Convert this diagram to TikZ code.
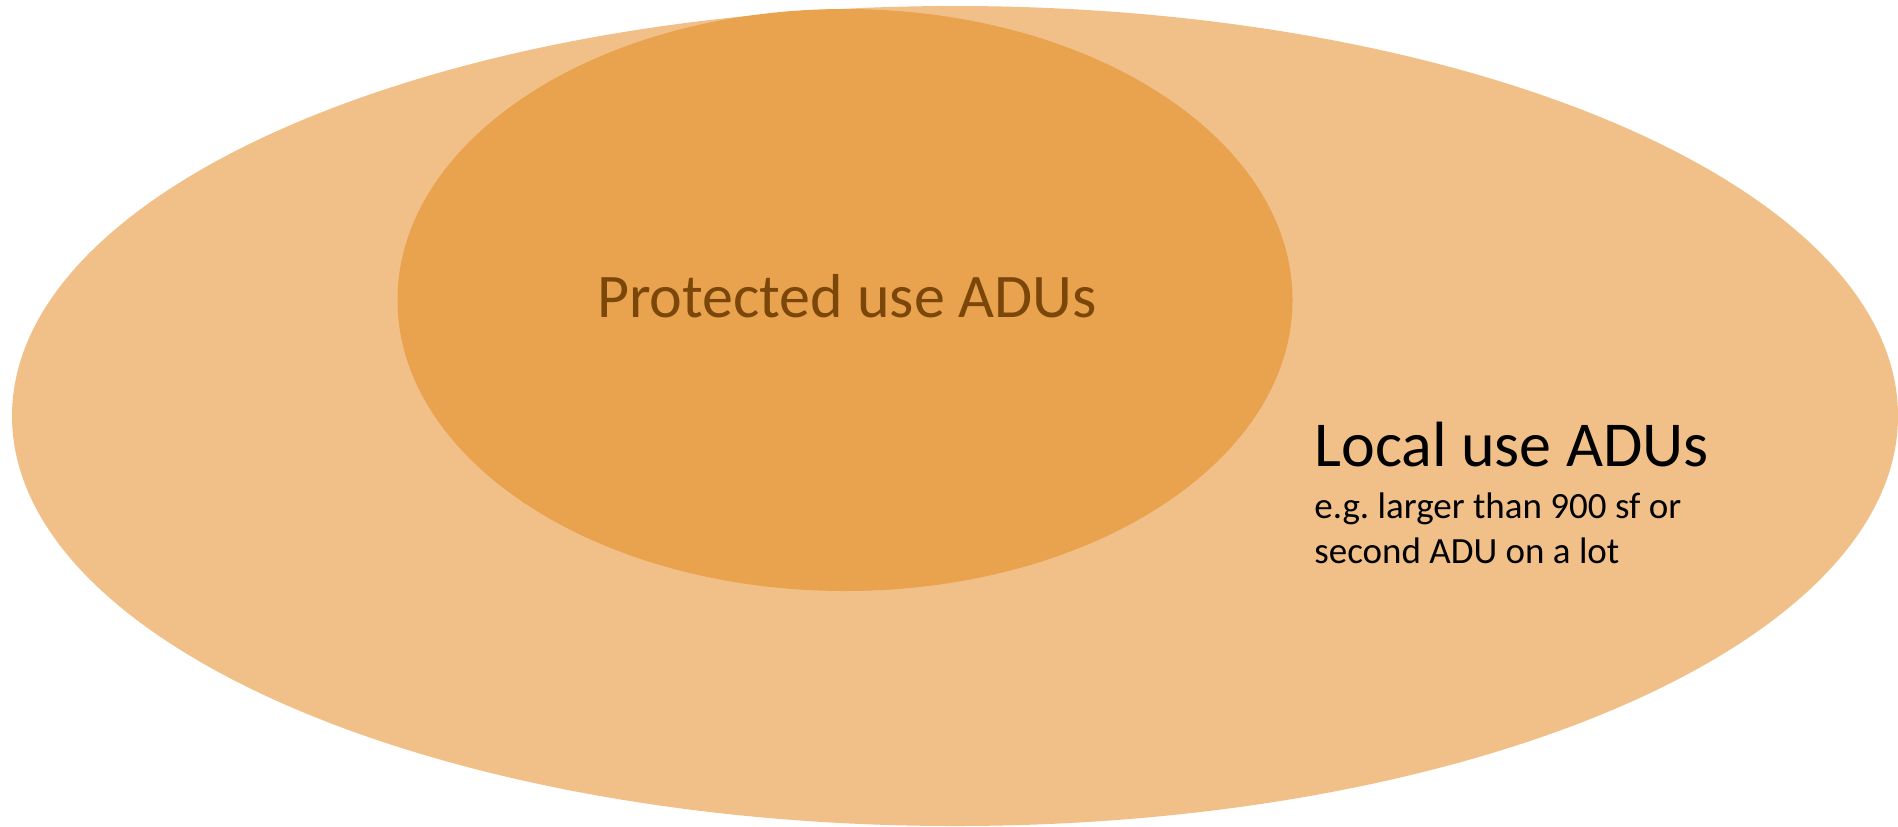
\documentclass[tikz,border=0pt]{standalone}
\usepackage{fontspec}
\setmainfont{Carlito}
\usetikzlibrary{positioning}
\definecolor{localfill}{RGB}{241,192,137}
\definecolor{protfill}{RGB}{233,162,77}
\definecolor{prottext}{RGB}{122,70,10}
\tikzset{font=\fontsize{18.5}{23}\selectfont}

\begin{document}
\begin{tikzpicture}[x=0.5pt, y=-0.5pt]
	\useasboundingbox (0, 0) rectangle (1898, 826);
	\begin{scope}
		\tikzstyle{every node}=[inner sep=0pt, anchor=base west]
		\fill[localfill] (955, 416) ellipse [x radius=471.5pt, y radius=205pt];
		\fill[protfill] (845, 300) ellipse [x radius=223.75pt, y radius=145.5pt];

		\node[anchor=base, text=prottext, font=\fontsize{31}{36}\selectfont] (prot) at (847, 317) {Protected use ADUs};
		\node[font=\fontsize{32}{38}\selectfont] (local) at (1314, 466) {Local use ADUs};
		\node (sub1) at (1314, 518) {e.g.\ larger than 900 sf or};
		\node (sub2) at (1314, 563) {second ADU on a lot};
	\end{scope}
\end{tikzpicture}
\end{document}
